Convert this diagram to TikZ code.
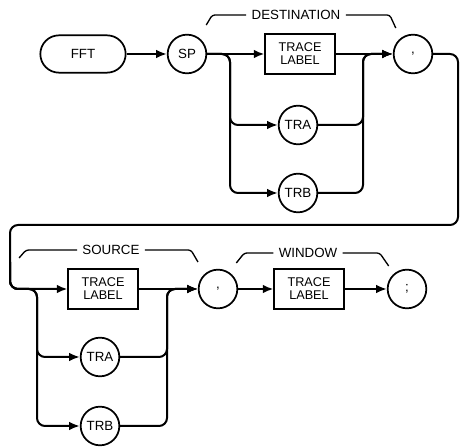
\documentclass[tikz,border=0pt]{standalone}
\usepackage{fontspec}
\setmainfont{Liberation Sans}
\usetikzlibrary{arrows.meta}

\begin{document}
\begin{tikzpicture}[->,>={Latex[length=8pt,width=6.5pt]},x=0.75pt,y=-0.75pt,line width=1.5pt,rounded corners=6pt]
  \tikzset{every node/.style={font=\fontsize{10}{10}\selectfont},
    kw/.style={draw, rounded corners=14pt, minimum width=64pt, minimum height=28pt, line width=1.3pt},
    tok/.style={draw, circle, minimum size=29pt, inner sep=0pt, line width=1.3pt},
    arg/.style={draw, rounded corners=0pt, minimum width=52pt, minimum height=30pt, inner sep=1pt,
                align=center, line width=1.3pt, font=\fontsize{9.5}{9.8}\selectfont},
    brk/.style={-, line width=1pt, rounded corners=2pt}}

  \useasboundingbox (0,0) rectangle (461,448);

  % first line
  \node[kw] (fft) at (83,54) {FFT};
  \node[tok] (sp) at (187,54) {SP};
  \node[arg] (tl1) at (300,54) {TRACE\\LABEL};
  \node[tok] (tra1) at (298,125) {TRA};
  \node[tok] (trb1) at (298,193) {TRB};
  \node[tok] (c1) at (413,54) {,};

  % second line
  \node[arg] (tl2) at (103,289) {TRACE\\LABEL};
  \node[tok] (tra2) at (100,357) {TRA};
  \node[tok] (trb2) at (100,426) {TRB};
  \node[tok] (c2) at (218,289) {,};
  \node[arg] (win) at (309,289) {TRACE\\LABEL};
  \node[tok] (semi) at (407,289) {;};

  \coordinate (splitA) at (230,54);
  \coordinate (joinA) at (363,54);
  \coordinate (loopR) at (458,225);
  \coordinate (loopL) at (10,225);
  \coordinate (loopD) at (10,262);
  \coordinate (splitB) at (37,289);
  \coordinate (joinB) at (167,289);

  \draw (fft) -- (sp);
  \draw (sp) -- (tl1);
  \draw (sp.east) -- (splitA) |- (tra1);
  \draw (sp.east) -- (splitA) |- (trb1);
  \draw (tl1) -- (c1);
  \draw (tra1) -| (joinA) -- (c1);
  \draw (trb1) -| (joinA) -- (c1);

  % wrap round to the next line
  \draw (c1) -| (loopR) -- (loopL) -- (loopD) |- (tl2);
  \draw (loopD) |- (splitB) |- (tra2);
  \draw (loopD) |- (splitB) |- (trb2);
  \draw (tra2) -| (joinB) -- (c2);
  \draw (trb2) -| (joinB) -- (c2);
  \draw (tl2) -- (c2);
  \draw (c2) -- (win);
  \draw (win) -- (semi);

  % group brackets
  \node (dest) at (296,15) {DESTINATION};
  \draw[brk] (dest.west) -- ++(-34,0) -- ++(-6,10);
  \draw[brk] (dest.east) -- ++(44,0) -- ++(6,13);
  \node (src) at (111,250) {SOURCE};
  \draw[brk] (src.west) -- ++(-51,0) -- ++(-7,8);
  \draw[brk] (src.east) -- ++(46,0) -- ++(7,12);
  \node (wnd) at (308,253) {WINDOW};
  \draw[brk] (wnd.west) -- ++(-29,0) -- ++(-8,10);
  \draw[brk] (wnd.east) -- ++(37,0) -- ++(9,13);
\end{tikzpicture}
\end{document}
